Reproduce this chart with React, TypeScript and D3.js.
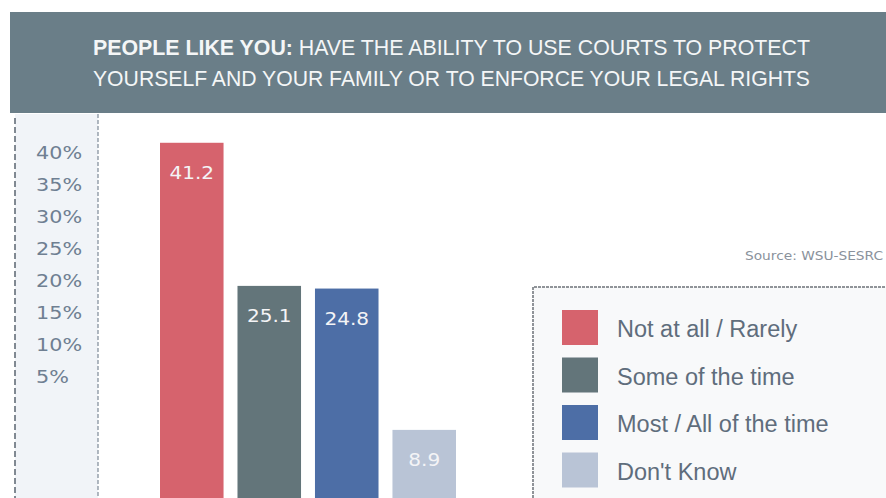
import React, { useEffect, useRef } from "react";
import * as d3 from "d3";

const categories = ["Not at all / Rarely", "Some of the time", "Most / All of the time", "Don't Know"];
const values = [41.2, 25.1, 24.8, 8.9];
const colors = ["#d6636d", "#63757a", "#4d6ea6", "#b9c4d6"];
const tickValues = [5, 10, 15, 20, 25, 30, 35, 40];
const titleBold = "PEOPLE LIKE YOU:";
const titleRest1 = " HAVE THE ABILITY TO USE COURTS TO PROTECT";
const titleLine2 = "YOURSELF AND YOUR FAMILY OR TO ENFORCE YOUR LEGAL RIGHTS";
const source = "Source: WSU-SESRC";

const App = () => {
  const ref = useRef<SVGSVGElement>(null);

  useEffect(() => {
    drawChart();
  }, []);

  const drawChart = () => {
    const width = 886;
    const height = 498;
    const font = "'Liberation Sans Narrow', 'Liberation Sans', Arial, sans-serif";
    const wide = "'DejaVu Sans', Verdana, sans-serif";
    const svg = d3.select(ref.current).attr("width", width).attr("height", height);
    svg.selectAll("*").remove();

    svg.append("rect").attr("width", width).attr("height", height).attr("fill", "#ffffff");

    //title band
    svg.append("rect").attr("x", 10).attr("y", 12).attr("width", width - 10).attr("height", 101).attr("fill", "#6a7e88");
    const t1 = svg
      .append("text")
      .attr("x", 93)
      .attr("y", 55)
      .attr("font-family", font)
      .attr("font-size", 21.5)
      .attr("fill", "#f4f6f7")
      .attr("textLength", 717)
      .attr("lengthAdjust", "spacingAndGlyphs");
    t1.append("tspan").attr("font-weight", "bold").text(titleBold);
    t1.append("tspan").text(titleRest1);
    svg
      .append("text")
      .attr("x", 93)
      .attr("y", 86)
      .attr("font-family", font)
      .attr("font-size", 21.5)
      .attr("fill", "#f4f6f7")
      .attr("textLength", 717)
      .attr("lengthAdjust", "spacingAndGlyphs")
      .text(titleLine2);

    //y axis strip
    svg.append("rect").attr("x", 15).attr("y", 114).attr("width", 83).attr("height", height - 114).attr("fill", "#f1f4f8");
    svg.append("line").attr("x1", 15).attr("x2", 15).attr("y1", 118).attr("y2", height)
      .attr("stroke", "#5a6470").attr("stroke-width", 1.5).attr("stroke-dasharray", "6 3");
    svg.append("line").attr("x1", 98).attr("x2", 98).attr("y1", 114).attr("y2", height)
      .attr("stroke", "#7e8a98").attr("stroke-width", 1.2).attr("stroke-dasharray", "4 2");

    //scales
    const x = d3.scaleBand<string>().domain(categories).range([160, 456]).paddingInner(0.18).paddingOuter(0);
    const yBar = d3.scaleLinear().domain([0, 45]).range([509, 109]);
    const yAxis = d3.scaleLinear().domain([5, 40]).range([377, 153]);

    const axis = svg
      .append("g")
      .attr("transform", "translate(36,0) scale(1.22,1)")
      .call(d3.axisLeft(yAxis).tickValues(tickValues).tickSize(0).tickPadding(0).tickFormat((d) => `${d}%`));
    axis.select(".domain").remove();
    axis
      .selectAll("text")
      .attr("text-anchor", "start")
      .attr("font-family", wide)
      .attr("font-size", 17)
      .attr("fill", "#6f7f92");

    //bars
    const bars = svg.selectAll(".bar").data(values).enter().append("g").attr("class", "bar");
    bars
      .append("rect")
      .attr("x", (d, i) => x(categories[i]) as number)
      .attr("y", (d) => yBar(d))
      .attr("width", x.bandwidth())
      .attr("height", (d) => yBar(0) - yBar(d))
      .attr("fill", (d, i) => colors[i]);
    bars
      .append("text")
      .attr("transform", (d, i) => `translate(${(x(categories[i]) as number) + x.bandwidth() / 2},${yBar(d) + 36}) scale(1.18,1)`)
      .attr("text-anchor", "middle")
      .attr("font-family", wide)
      .attr("font-size", 17)
      .attr("fill", "#f4f4f6")
      .text((d) => d.toFixed(1));

    //source
    svg
      .append("text")
      .attr("x", 745)
      .attr("y", 260)
      .attr("font-family", wide)
      .attr("font-size", 12)
      .attr("fill", "#8a929c")
      .attr("textLength", 138)
      .attr("lengthAdjust", "spacingAndGlyphs")
      .text(source);

    //legend
    svg.append("rect").attr("x", 533).attr("y", 287).attr("width", width - 533).attr("height", height - 287).attr("fill", "#f8f9fa");
    svg.append("path").attr("d", `M533,${height}V287H${width}`)
      .attr("fill", "none").attr("stroke", "#6c7178").attr("stroke-width", 1.5).attr("stroke-dasharray", "3 1");
    const legend = svg.selectAll(".legend").data(categories).enter().append("g").attr("class", "legend")
      .attr("transform", (d, i) => `translate(562,${310 + i * 47.5})`);
    legend.append("rect").attr("width", 36).attr("height", 35).attr("fill", (d, i) => colors[i]);
    legend
      .append("text")
      .attr("x", 55)
      .attr("y", 27)
      .attr("font-family", font)
      .attr("font-size", 23.5)
      .attr("fill", "#5f6d7c")
      .text((d) => d);
  };

  return <svg ref={ref} style={{ position: "absolute", left: 0, top: 0 }}></svg>;
};
export default App;
